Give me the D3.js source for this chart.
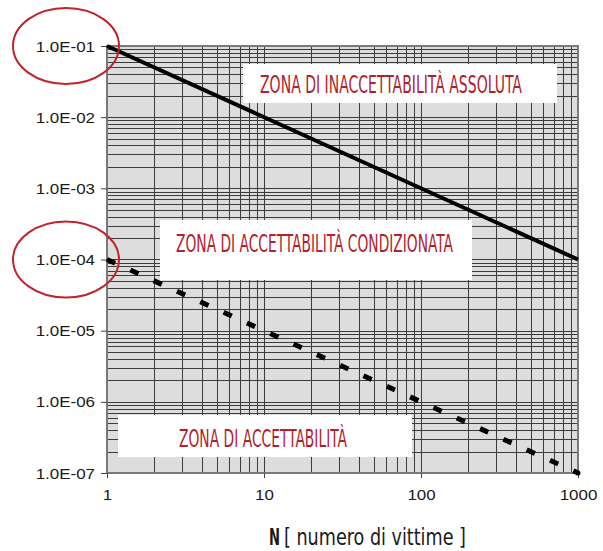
<!DOCTYPE html>
<html>
<head>
<meta charset="utf-8">
<script src="https://cdn.jsdelivr.net/npm/d3@7"></script>
<style>
  html, body { margin: 0; padding: 0; background: #fff; }
  svg { display: block; }
</style>
</head>
<body>
<svg id="chart" width="603" height="551"></svg>
<script>
// F-N curve: frequency of accidents vs number of victims
const xTicks = [1, 10, 100, 1000];
const xTickLabels = ["1", "10", "100", "1000"];
const yTicks = [1e-1, 1e-2, 1e-3, 1e-4, 1e-5, 1e-6, 1e-7];
const yTickLabels = ["1.0E-01", "1.0E-02", "1.0E-03", "1.0E-04", "1.0E-05", "1.0E-06", "1.0E-07"];

// limit lines (N, F)
const upperN = [1, 1000];
const upperF = [1e-1, 1e-4];
const lowerN = [1, 1000];
const lowerF = [1e-4, 1e-7];

// tick values circled on the vertical axis
const circledF = [1e-1, 1e-4];

const zoneLabels = [
  "ZONA DI INACCETTABILITÀ ASSOLUTA",
  "ZONA DI ACCETTABILITÀ CONDIZIONATA",
  "ZONA DI ACCETTABILITÀ"
];
const axisTitleBold = "N";
const axisTitleRest = "[ numero di vittime ]";

// layout
const plot = { left: 107, right: 578, top: 46, bottom: 473 };
const zoneBoxes = [
  { x: 243, y: 64, w: 314, h: 39, tx: 260, tw: 262, base: 93 },
  { x: 160, y: 220, w: 312, h: 60, tx: 176, tw: 277, base: 252 },
  { x: 118, y: 415, w: 294, h: 42, tx: 179, tw: 168, base: 447 }
];
const condensedFont = "'DejaVu Sans Condensed', 'DejaVu Sans', sans-serif";

const svg = d3.select("#chart");

const x = d3.scaleLog().domain([1, 1000]).range([plot.left, plot.right]);
const y = d3.scaleLog().domain([1e-7, 1e-1]).range([plot.bottom, plot.top]);

// squeeze a text element horizontally so it spans the given width
function fitWidth(sel, left, baseline, width) {
  const w = sel.node().getComputedTextLength();
  sel.attr("x", 0).attr("y", 0)
    .attr("transform", `translate(${left},${baseline}) scale(${width / w},1)`);
}

// plot background
svg.append("rect")
  .attr("x", plot.left).attr("y", plot.top)
  .attr("width", plot.right - plot.left).attr("height", plot.bottom - plot.top)
  .attr("fill", "#dddddd");

// logarithmic grid (decades and sub-decades)
const grid = svg.append("g").attr("stroke", "#3c3c3c").attr("stroke-width", 1);
grid.selectAll("line.v").data(x.ticks()).join("line")
  .attr("class", "v")
  .attr("x1", d => Math.round(x(d)) + 0.5).attr("x2", d => Math.round(x(d)) + 0.5)
  .attr("y1", plot.top).attr("y2", plot.bottom);
grid.selectAll("line.h").data(y.ticks()).join("line")
  .attr("class", "h")
  .attr("y1", d => Math.round(y(d)) + 0.5).attr("y2", d => Math.round(y(d)) + 0.5)
  .attr("x1", plot.left).attr("x2", plot.right);

// frame
svg.append("rect")
  .attr("x", plot.left).attr("y", plot.top)
  .attr("width", plot.right - plot.left).attr("height", plot.bottom - plot.top)
  .attr("fill", "none").attr("stroke", "#7a7a7a").attr("stroke-width", 2);

// zone boxes and labels
const zones = svg.append("g");
zoneBoxes.forEach((b, i) => {
  zones.append("rect")
    .attr("x", b.x).attr("y", b.y).attr("width", b.w).attr("height", b.h)
    .attr("fill", "#ffffff");
  const t = zones.append("text")
    .attr("font-family", condensedFont)
    .attr("font-size", 25)
    .attr("fill", "#b3202b")
    .text(zoneLabels[i]);
  fitWidth(t, b.tx, b.base, b.tw);
});

// axes
const tickFont = "'Liberation Sans', Arial, sans-serif";
const yAxis = d3.axisLeft(y).tickValues(yTicks)
  .tickFormat((d, i) => yTickLabels[i]).tickSize(6).tickPadding(6);
const gy = svg.append("g").attr("transform", `translate(${plot.left},0)`).call(yAxis);
gy.select(".domain").remove();
gy.selectAll(".tick line").attr("stroke", "#444");
gy.selectAll("text").attr("font-family", tickFont).attr("font-size", 14)
  .attr("fill", "#1a1a1a").attr("dy", "0.36em");

const xAxis = d3.axisBottom(x).tickValues(xTicks)
  .tickFormat((d, i) => xTickLabels[i]).tickSize(5).tickPadding(12);
const gx = svg.append("g").attr("transform", `translate(0,${plot.bottom})`).call(xAxis);
gx.select(".domain").remove();
gx.selectAll(".tick line").attr("stroke", "#444");
gx.selectAll("text").attr("font-family", tickFont).attr("font-size", 14).attr("fill", "#1a1a1a");

// slightly wide tick lettering
svg.selectAll(".tick text").each(function () {
  const w = this.getComputedTextLength();
  d3.select(this).attr("textLength", w * 1.21).attr("lengthAdjust", "spacingAndGlyphs");
});

// limit lines
const line = d3.line().x(d => x(d[0])).y(d => y(d[1]));
svg.append("path")
  .datum(d3.zip(upperN, upperF))
  .attr("d", line)
  .attr("fill", "none").attr("stroke", "#000").attr("stroke-width", 4);
svg.append("path")
  .datum(d3.zip(lowerN, lowerF))
  .attr("d", line)
  .attr("fill", "none").attr("stroke", "#000").attr("stroke-width", 5)
  .attr("stroke-dasharray", "9,16.6");
svg.append("circle")
  .attr("cx", x(lowerN[1])).attr("cy", y(lowerF[1])).attr("r", 2.5).attr("fill", "#000");

// red ellipses around the threshold values
svg.selectAll("ellipse.mark").data(circledF).join("ellipse")
  .attr("class", "mark")
  .attr("cx", 66).attr("cy", d => y(d))
  .attr("rx", 53).attr("ry", 38)
  .attr("fill", "none").attr("stroke", "#c0242c").attr("stroke-width", 2);

// axis title
const titleN = svg.append("text")
  .attr("font-family", condensedFont).attr("font-weight", "bold")
  .attr("font-size", 23).attr("fill", "#1a1a1a")
  .text(axisTitleBold);
fitWidth(titleN, 269, 545, 11);
const titleRest = svg.append("text")
  .attr("font-family", condensedFont)
  .attr("font-size", 23).attr("fill", "#1a1a1a")
  .text(axisTitleRest);
fitWidth(titleRest, 284, 545, 182);
</script>
</body>
</html>
